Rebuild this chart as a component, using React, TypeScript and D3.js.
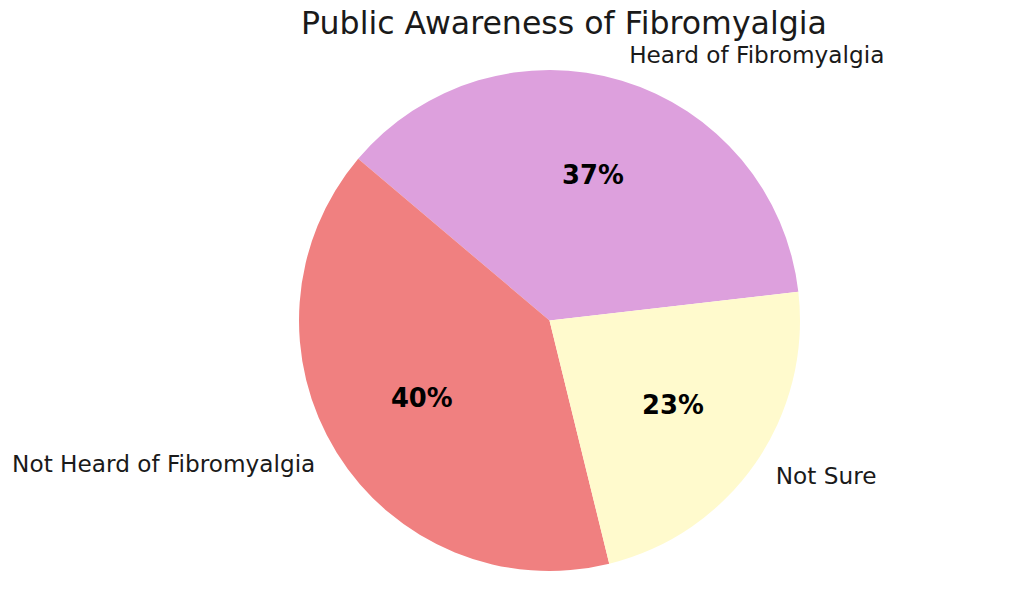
import React from "react";
import * as d3 from "d3";

const categories = ["Heard of Fibromyalgia", "Not Heard of Fibromyalgia", "Not Sure"];
const values = [37, 40, 23];
const colors = ["#DDA0DD", "#F08080", "#FFFACD"];
const title = "Public Awareness of Fibromyalgia";

const W = 1024;
const H = 608;
const cx = 549.5;
const cy = 320.5;
const R = 250.5;
const startDeg = 6.6; // matplotlib-style start angle, counterclockwise

export default function App() {
  const total = d3.sum(values);
  const toRad = (d: number) => (d * Math.PI) / 180;
  const pie = d3
    .pie<number>()
    .sort(null)
    .value((d) => d)
    .startAngle(toRad(90 - startDeg))
    .endAngle(toRad(90 - startDeg - 360));
  const arcs = pie(values);
  const arcGen = d3.arc<d3.PieArcDatum<number>>().innerRadius(0).outerRadius(R);
  const font = "'DejaVu Sans', sans-serif";

  return (
    <svg width={W} height={H} style={{ position: "absolute", left: 0, top: 0 }}>
      <rect width={W} height={H} fill="white" />
      <text x={564} y={34} textAnchor="middle" fontFamily={font} fontSize={31.6} fill="#1a1a1a">
        {title}
      </text>
      <g transform={`translate(${cx},${cy})`}>
        {arcs.map((a, i) => (
          <path key={i} d={arcGen(a) || ""} fill={colors[i]} />
        ))}
        {arcs.map((a, i) => {
          const mid = (a.startAngle + a.endAngle) / 2;
          const sx = Math.sin(mid);
          const sy = -Math.cos(mid);
          const lx = 1.1 * R * sx;
          const ly = 1.1 * R * sy;
          const px = 0.6 * R * sx;
          const py = 0.6 * R * sy;
          return (
            <g key={i}>
              <text
                x={lx}
                y={ly}
                dy="0.27em"
                textAnchor={sx >= 0 ? "start" : "end"}
                fontFamily={font}
                fontSize={23.2}
                fill="#1a1a1a"
              >
                {categories[i]}
              </text>
              <text
                x={px}
                y={py}
                dy="0.28em"
                textAnchor="middle"
                fontFamily={font}
                fontSize={25.8}
                fontWeight="bold"
                fill="black"
              >
                {`${Math.round((values[i] / total) * 100)}%`}
              </text>
            </g>
          );
        })}
      </g>
    </svg>
  );
}
